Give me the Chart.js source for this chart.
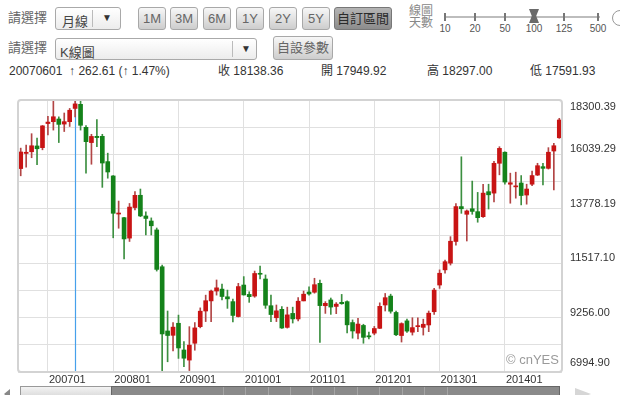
<!DOCTYPE html>
<html lang="zh-Hant">
  <head>
    <meta charset="UTF-8" />
    <title>月線 K線圖</title>
    <style>
      body { margin: 0; width: 620px; height: 395px; position: relative; overflow: hidden; background: #fff;
        font-family: 'Liberation Sans', Arial, 'Noto Sans CJK TC', sans-serif; color: #333; }
      .abs { position: absolute; }
      .lbl { font-size: 13px; color: #666; line-height: 14px; }
      .sel { border: 1px solid #a9a9a9; border-radius: 3px; background: linear-gradient(#fff, #ececec); box-sizing: border-box; font-size: 13px; color: #444; }
      .btn { border: 1px solid #a8a8a8; border-radius: 3px; background: linear-gradient(#f7f7f7, #cdcdcd); height: 23px; box-sizing: border-box;
        font-size: 13px; color: #666; text-align: center; line-height: 21px; }
      .btn.on { background: linear-gradient(#b4b4b4, #8c8c8c); color: #2a2a2a; border-color: #777; }
      .info { font-size: 12px; color: #333; top: 64px; line-height: 14px; }
      .tk { width: 2px; height: 8px; background: #777; top: 13px; }
      .tl { font-size: 10px; color: #555; top: 23px; width: 24px; margin-left: -12px; text-align: center; }
      .grip { width: 1px; height: 10px; background: #a5a5a5; top: 387px; }
    </style>
  </head>
  <body>
    <!-- row 1 -->
    <div class="abs lbl" style="left:8px;top:11px">請選擇</div>
    <div class="abs sel" style="left:55px;top:7px;width:66px;height:23px">
      <span class="abs" style="left:6px;top:3px">月線</span>
      <span class="abs" style="left:36px;top:2px;width:1px;height:17px;background:#bbb"></span>
      <span class="abs" style="left:46px;top:4px;font-size:10px;color:#333">▼</span>
    </div>
    <div class="abs btn" style="left:138px;top:7px;width:28px">1M</div>
    <div class="abs btn" style="left:170px;top:7px;width:28px">3M</div>
    <div class="abs btn" style="left:203px;top:7px;width:28px">6M</div>
    <div class="abs btn" style="left:236px;top:7px;width:28px">1Y</div>
    <div class="abs btn" style="left:269px;top:7px;width:28px">2Y</div>
    <div class="abs btn" style="left:302px;top:7px;width:28px">5Y</div>
    <div class="abs btn on" style="left:334px;top:7px;width:58px">自訂區間</div>
    <div class="abs" style="left:409px;top:5px;font-size:12px;line-height:12px;color:#888">線圖<br />天數</div>
    <div class="abs" style="left:445px;top:16px;width:155px;height:2px;background:#bdbdbd"></div>
    <div class="abs tk" style="left:444px"></div><div class="abs tl" style="left:445px">10</div>
    <div class="abs tk" style="left:474px"></div><div class="abs tl" style="left:475px">20</div>
    <div class="abs tk" style="left:504px"></div><div class="abs tl" style="left:505px">50</div>
    <div class="abs tk" style="left:563px"></div><div class="abs tl" style="left:564px">125</div>
    <div class="abs tk" style="left:597px"></div><div class="abs tl" style="left:598px">500</div>
    <div class="abs tl" style="left:534px">100</div>
    <div class="abs" style="left:529px;top:9px;width:10px;height:14px;background:#6a6a6a;clip-path:polygon(0 0,100% 0,72% 50%,100% 100%,0 100%,28% 50%)"></div>
    <div class="abs" style="left:612px;top:10px;width:14px;height:14px;border:1px solid #999;border-radius:50%"></div>

    <!-- row 2 -->
    <div class="abs lbl" style="left:8px;top:41px">請選擇</div>
    <div class="abs sel" style="left:55px;top:38px;width:202px;height:22px">
      <span class="abs" style="left:4px;top:3px">K線圖</span>
      <span class="abs" style="left:176px;top:2px;width:1px;height:16px;background:#bbb"></span>
      <span class="abs" style="left:185px;top:4px;font-size:10px;color:#333">▼</span>
    </div>
    <div class="abs btn" style="left:273px;top:36px;width:60px;height:24px;line-height:22px">自設參數</div>

    <!-- row 3 -->
    <div class="abs info" style="left:9px">20070601 &nbsp;↑ 262.61 (↑ 1.47%)</div>
    <div class="abs info" style="left:218px">收 18138.36</div>
    <div class="abs info" style="left:321px">開 17949.92</div>
    <div class="abs info" style="left:427px">高 18297.00</div>
    <div class="abs info" style="left:530px">低 17591.93</div>

    <div class="abs" style="left:0;top:90px;width:620px;height:305px">
      <canvas id="chart"></canvas>
    </div>

    <div class="abs" style="left:506px;top:352px;font-size:13px;color:#9a9a9a;z-index:2">© cnYES</div>

    <!-- range bar -->
    <div class="abs" style="left:4px;top:389px;width:0;height:0;border-top:5px solid transparent;border-bottom:5px solid transparent;border-right:6px solid #888"></div>
    <div class="abs" style="left:20px;top:386px;width:92px;height:12px;box-sizing:border-box;border:1px solid #999;background:linear-gradient(#f3f3f3,#d9d9d9)"></div>
    <div class="abs" style="left:111px;top:386px;width:449px;height:12px;box-sizing:border-box;border:1px solid #666;background:#8a8a8a"></div>
    <div class="abs grip" style="left:223px"></div><div class="abs grip" style="left:245px"></div>
    <div class="abs grip" style="left:268px"></div><div class="abs grip" style="left:290px"></div>
    <div class="abs grip" style="left:312px"></div><div class="abs grip" style="left:334px"></div>
    <div class="abs grip" style="left:357px"></div><div class="abs grip" style="left:379px"></div>
    <div class="abs grip" style="left:402px"></div><div class="abs grip" style="left:424px"></div>
    <div class="abs grip" style="left:447px"></div>
    <div class="abs" style="left:575px;top:388px;width:0;height:0;border-top:6px solid transparent;border-bottom:6px solid transparent;border-left:16px solid #d6d6d6"></div>

    <script src="https://cdn.jsdelivr.net/npm/chart.js"></script>
    <script>
      // monthly candles, 2006/08 .. 2014/11
      const firstYear = 2006;
      const firstMonth = 8;
      const opens = [
        15450, 16080, 16150, 16390, 16320,
        17322, 17400, 17510, 17300, 17400, 17949.92, 18120, 17165, 16530, 16790, 16790, 15740,
        15144, 13560, 13410, 12560, 13830, 14340, 13480, 13270, 12900, 11370, 8700, 8520,
        9020, 7910, 7490, 8190, 8880, 9530, 9950, 10360, 10440, 10120, 9920, 9300,
        10610, 10220, 10150, 11090, 10860, 9750, 9250, 9600, 8850, 9430, 9200, 9950,
        10320, 10310, 10680, 9750, 9990, 9720, 9890, 9920, 9050, 8610, 8930, 8500,
        8610, 8810, 9780, 10150, 9470, 8510, 9120, 8650, 8880, 8850, 8950, 9500,
        10610, 11240, 11520, 12420, 13870, 13550, 13780, 13660, 13450, 14490, 14430, 15670,
        16130, 14800, 14690, 14850, 14350, 14800, 15180, 15530, 15460, 16180, 16730
      ];
      const highs = [
        16300, 16430, 16900, 16720, 17240,
        17617, 18300.39, 17600, 17760, 17950, 18297.00, 18295, 17232, 16875, 17488, 16875, 16090,
        15160, 14100, 13420, 14000, 14490, 14600, 13650, 13400, 12980, 11440, 9530, 9050,
        9360, 8260, 8880, 9050, 9660, 10190, 10400, 10820, 10650, 10400, 10030, 10680,
        10960, 10330, 11190, 11400, 11030, 10190, 9780, 9710, 9690, 9690, 10090, 10360,
        10540, 10891, 10820, 9920, 10070, 9880, 10220, 9950, 9160, 9230, 8980, 8650,
        8890, 9870, 10260, 10230, 9530, 9040, 9190, 9250, 9250, 9190, 9530, 10470,
        11240, 11650, 12620, 14000, 15940, 13730, 14930, 14460, 14800, 14800, 15750, 16360,
        16150, 15260, 15300, 15160, 14800, 15350, 15670, 15670, 16320, 16500, 17540
      ];
      const lows = [
        15150, 15510, 15900, 15615, 16230,
        16850, 17050, 16532, 16990, 17200, 17591.93, 17050, 15262, 15630, 16360, 14669, 15050,
        12573, 12970, 11691, 12420, 13730, 13450, 12690, 12690, 11190, 6994.90, 7420, 7870,
        7560, 7220, 7055, 7900, 8830, 9090, 9090, 10190, 9990, 9640, 9076, 9280,
        10190, 9890, 10100, 10860, 9640, 9090, 9090, 8810, 8820, 9030, 9120, 9950,
        10190, 10270, 8228, 9430, 9390, 9420, 9810, 8620, 8400, 8370, 8190, 8370,
        8540, 8800, 9530, 9440, 8510, 8240, 8640, 8530, 8670, 8530, 8670, 9390,
        10470, 11100, 11440, 12270, 13590, 12440, 13550, 13220, 13420, 13770, 14060, 15190,
        14800, 14010, 14220, 13940, 13970, 14740, 15160, 14770, 15430, 14560, 16710
      ];
      const closes = [
        16140, 16128, 16399, 16274, 17225,
        17383, 17604, 17287, 17400, 17875, 18138.36, 17249, 16569, 16786, 16738, 15681, 15308,
        13592, 13603, 12526, 13850, 14339, 13481, 13377, 13073, 11260, 8577, 8512, 8860,
        7994, 7568, 8110, 8828, 9523, 9958, 10357, 10493, 10133, 10035, 9346, 10546,
        10198, 10126, 11090, 11057, 9769, 9383, 9537, 8824, 9369, 9202, 9937, 10229,
        10238, 10624, 9755, 9850, 9694, 9816, 9833, 8955, 8700, 8988, 8435, 8455,
        8803, 9723, 10084, 9521, 8543, 9007, 8695, 8840, 8920, 8980, 9440, 10400,
        11100, 11580, 12430, 13870, 13780, 13690, 13670, 13410, 14430, 14360, 15670, 16290,
        14890, 14860, 14730, 14330, 14600, 15160, 15570, 15460, 16130, 16400, 17470
      ];
      const crossMonth = '200706';
      const yMin = 6994.90;
      const yMax = 18300.39;
      const yStep = 1130.549;

      const months = opens.map((_, i) => {
        const m = firstMonth - 1 + i;
        return String(firstYear + Math.floor(m / 12)) + String((m % 12) + 1).padStart(2, '0');
      });
      const up = opens.map((o, i) => closes[i] >= o);

      const overlay = {
        id: 'overlay',
        beforeDatasetsDraw(chart) {
          const { ctx, chartArea: a, scales: { x } } = chart;
          const cx = Math.round(x.getPixelForValue(months.indexOf(crossMonth))) + 0.5;
          ctx.save();
          ctx.strokeStyle = 'rgb(70,160,235)';
          ctx.lineWidth = 1.2;
          ctx.beginPath();
          ctx.moveTo(cx, a.top);
          ctx.lineTo(cx, a.bottom);
          ctx.stroke();
          ctx.restore();
        },
        afterDraw(chart) {
          const { ctx, chartArea: a, scales: { x, y } } = chart;
          ctx.save();
          ctx.strokeStyle = '#d3d3d3';
          ctx.lineWidth = 2;
          ctx.beginPath();
          ctx.roundRect(a.left, a.top, a.right - a.left, a.bottom - a.top, 3);
          ctx.stroke();

          ctx.font = '11px "Liberation Sans", Arial, sans-serif';
          ctx.fillStyle = '#333';
          ctx.textBaseline = 'middle';
          ctx.textAlign = 'left';
          // price labels on every other grid line
          y.ticks.forEach((t, i) => {
            if (i % 2) return;
            const p = y.getPixelForValue(t.value);
            const dy = i === 0 ? -9 : i === y.ticks.length - 1 ? 7 : -5;
            ctx.fillText(t.value.toFixed(2), a.right + 8, p + dy);
          });
          // year labels
          x.ticks.forEach((t) => {
            const lab = months[t.value];
            if (!lab.endsWith('01')) return;
            ctx.fillText(lab, x.getPixelForValue(t.value) + 1, a.bottom + 8);
          });
          ctx.restore();
        },
      };

      new Chart(document.getElementById('chart'), {
        type: 'bar',
        data: {
          labels: months,
          datasets: [
            {
              label: 'body',
              data: opens.map((o, i) => [o, closes[i]]),
              backgroundColor: up.map((u) => (u ? '#c81414' : '#14821a')),
              barThickness: 4,
              minBarLength: 1,
              grouped: false,
            },
            {
              label: 'wick',
              data: lows.map((l, i) => [l, highs[i]]),
              backgroundColor: up.map((u) => (u ? '#b24545' : '#3c8f40')),
              barThickness: 1,
              grouped: false,
            },
          ],
        },
        options: {
          animation: false,
          responsive: true,
          maintainAspectRatio: false,
          events: [],
          layout: { padding: { left: 18, top: 10, right: 0, bottom: 0 } },
          plugins: { legend: { display: false }, tooltip: { enabled: false } },
          scales: {
            x: {
              offset: true,
              grid: {
                offset: false,
                drawTicks: false,
                color: (c) => (months[c.index] && months[c.index].endsWith('01') ? '#e0e0e0' : 'rgba(0,0,0,0)'),
              },
              border: { display: false },
              ticks: { display: false, autoSkip: false },
              afterFit: (s) => { s.height = 23; },
            },
            y: {
              position: 'right',
              min: yMin,
              max: yMax,
              ticks: { display: false, stepSize: yStep },
              grid: { color: '#e0e0e0', drawTicks: false },
              border: { display: false },
              afterFit: (s) => { s.width = 58; },
            },
          },
        },
        plugins: [overlay],
      });
    </script>
  </body>
</html>
